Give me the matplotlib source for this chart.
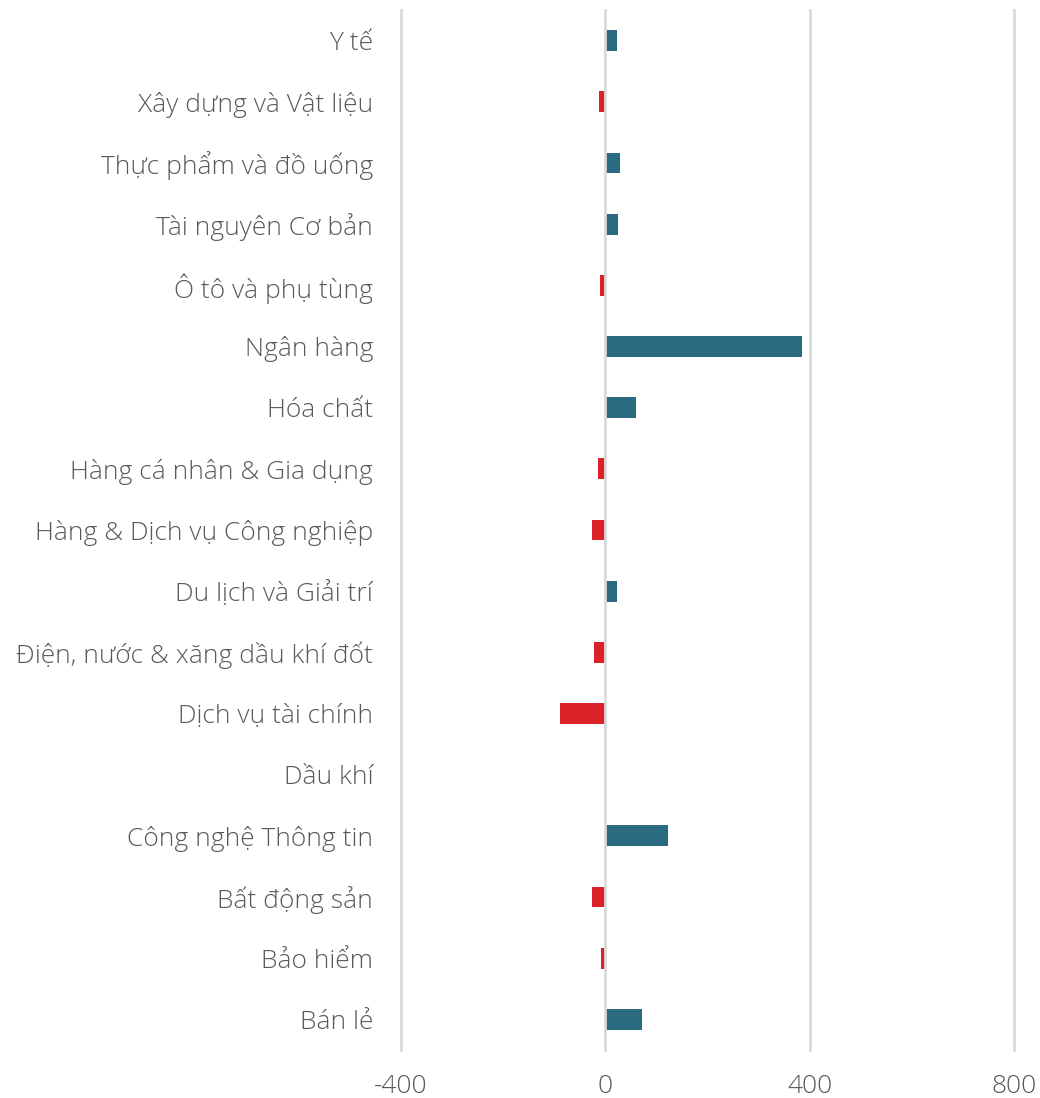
import matplotlib
matplotlib.use('Agg')
from matplotlib import pyplot as plt

sectors = ['Y tế', 'Xây dựng và Vật liệu', 'Thực phẩm và đồ uống', 'Tài nguyên Cơ bản',
           'Ô tô và phụ tùng', 'Ngân hàng', 'Hóa chất', 'Hàng cá nhân & Gia dụng',
           'Hàng & Dịch vụ Công nghiệp', 'Du lịch và Giải trí',
           'Điện, nước & xăng dầu khí đốt', 'Dịch vụ tài chính', 'Dầu khí',
           'Công nghệ Thông tin', 'Bất động sản', 'Bảo hiểm', 'Bán lẻ']
values = [23, -12, 29, 25, -10, 385, 61, -14, -27, 22, -22, -88, -1, 123, -27, -8, 72]
ticks = [-400, 0, 400, 800]

teal = '#2a6b82'
red = '#dc2229'
text_col = '#595959'

plt.rcParams['font.family'] = ['Open Sans', 'DejaVu Sans']

fig = plt.figure(figsize=(10.4, 10.98), dpi=100)
ax = fig.add_axes([401 / 1040, 48 / 1098, 613 / 1040, 1040 / 1098])

colors = [teal if v >= 0 else red for v in values]
ax.barh(range(len(sectors)), values, height=0.34, color=colors, zorder=2)

ax.set_xlim(-400, 800)
ax.set_ylim(len(sectors) - 0.5, -0.5)
ax.set_xticks(ticks)
ax.set_xticklabels([str(t) for t in ticks])
ax.set_yticks(range(len(sectors)))
ax.set_yticklabels(sectors)

for t in ticks:
    ax.axvline(t, color='#d9d9d9', lw=2, zorder=3, clip_on=False)

for s in ax.spines.values():
    s.set_visible(False)
ax.tick_params(axis='both', length=0, labelsize=19, labelcolor=text_col)
ax.tick_params(axis='y', pad=20)
ax.tick_params(axis='x', pad=17)
for lab in ax.get_xticklabels() + ax.get_yticklabels():
    lab.set_fontweight('light')

fig.savefig('out.png', dpi=100)
